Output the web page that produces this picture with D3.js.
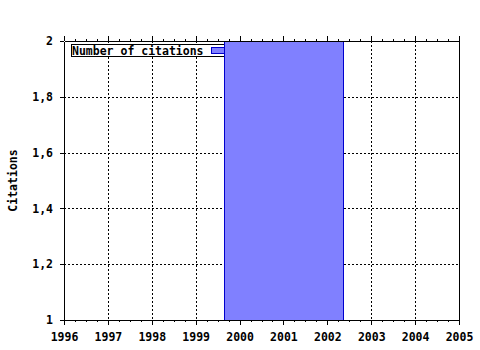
<!DOCTYPE html>
<html><head><meta charset="utf-8">
<script src="https://cdn.jsdelivr.net/npm/d3@7"></script>
<style>body{margin:0;background:#fff}svg{display:block}text{font-family:"DejaVu Sans Mono",monospace;font-weight:bold;font-size:11.5px;fill:#000}</style>
</head><body>
<script>
const years = [1996,1997,1998,1999,2000,2001,2002,2003,2004,2005];
const barYears = [2001];
const barValues = [2];
const yTicks = [1,1.2,1.4,1.6,1.8,2];
const yTickLabels = ["1","1,2","1,4","1,6","1,8","2"];
const seriesName = "Number of citations";
const yTitle = "Citations";

const W=480,H=350, L=64,R=459,T=41,B=320;
const barSpan = 2.72;
const svg = d3.select("body").append("svg").attr("width",W).attr("height",H);
const x = d3.scaleLinear().domain([1996,2005]).range([L,R]);
const y = d3.scaleLinear().domain([1,2]).range([B,T]);

// grid
const g = svg.append("g").attr("shape-rendering","crispEdges");
g.selectAll(".gx").data(years.slice(1,-1)).join("line")
  .attr("x1",d=>Math.round(x(d))+0.5).attr("x2",d=>Math.round(x(d))+0.5).attr("y1",T).attr("y2",B)
  .attr("stroke","#000").attr("stroke-dasharray","2,2");
g.selectAll(".gy").data(yTicks.slice(1,-1)).join("line")
  .attr("y1",d=>Math.round(y(d))+0.5).attr("y2",d=>Math.round(y(d))+0.5).attr("x1",L).attr("x2",R)
  .attr("stroke","#000").attr("stroke-dasharray","2,2");

// legend (under bar)
const lg = svg.append("g").attr("shape-rendering","crispEdges");
lg.append("rect").attr("x",71.5).attr("y",44.5).attr("width",160).attr("height",12).attr("fill","#fff").attr("stroke","#000");
lg.append("text").attr("x",72).attr("y",54.5).text(seriesName);
lg.append("rect").attr("x",211.5).attr("y",47.5).attr("width",20).attr("height",6).attr("fill","#8080ff").attr("stroke","#0000cc");

// bars
svg.append("g").attr("shape-rendering","crispEdges").selectAll("rect").data(barYears).join("rect")
  .attr("x",(d)=>Math.round(x(d-barSpan/2))+0.5)
  .attr("width",(d)=>Math.round(x(d+barSpan/2))-Math.round(x(d-barSpan/2)))
  .attr("y",(d,i)=>Math.round(y(barValues[i]))+0.5)
  .attr("height",(d,i)=>Math.round(y(1))-Math.round(y(barValues[i])))
  .attr("fill","#8080ff").attr("stroke","#0000cc");

// axes
const minor = d3.range(1996,2005.01,0.25).filter(v=>v%1!==0);
const xb = d3.axisBottom(x).tickValues(years).tickFormat(d3.format("d")).tickSize(5).tickSizeOuter(0).tickPadding(8);
const xbm = d3.axisBottom(x).tickValues(minor).tickSize(2).tickSizeOuter(0).tickFormat("");
const xt = d3.axisTop(x).tickValues(years).tickFormat("").tickSize(5).tickSizeOuter(0);
const xtm = d3.axisTop(x).tickValues(minor).tickSize(2).tickSizeOuter(0).tickFormat("");
const yl = d3.axisLeft(y).tickValues(yTicks).tickFormat((d,i)=>yTickLabels[i]).tickSize(4).tickSizeOuter(0).tickPadding(7);
function style(s){s.attr("shape-rendering","crispEdges");s.selectAll("path,line").attr("stroke","#000");s.selectAll("text").attr("font-family",null).attr("font-size",null).attr("fill","#000");}
svg.append("g").attr("transform",`translate(0,${B})`).call(xb).call(style);
svg.append("g").attr("transform",`translate(0,${B})`).call(xbm).call(style);
svg.append("g").attr("transform",`translate(0,${T})`).call(xt).call(style);
svg.append("g").attr("transform",`translate(0,${T})`).call(xtm).call(style);
svg.append("g").attr("transform",`translate(${L},0)`).call(yl).call(style);
svg.append("line").attr("x1",R+0.5).attr("x2",R+0.5).attr("y1",T).attr("y2",B).attr("stroke","#000").attr("shape-rendering","crispEdges");

svg.append("text").attr("transform",`translate(17,${(T+B)/2}) rotate(-90)`).attr("text-anchor","middle").text(yTitle);
</script>
</body></html>
